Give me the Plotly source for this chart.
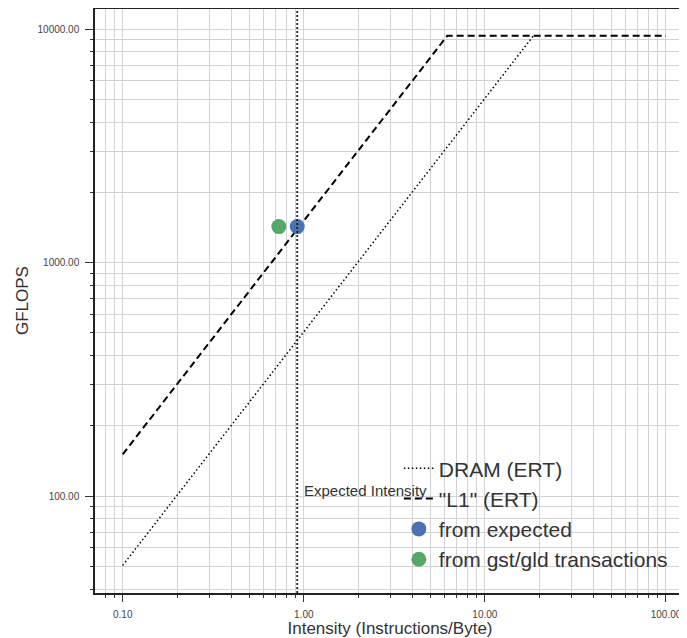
import math
import plotly.graph_objects as go

# Roofline data
intensity_range = [0.1, 100.0]
peak_gflops = 9360.0
l1_bw = 1510.0      # GB/s ("L1" ERT)
dram_bw = 505.0     # GB/s (DRAM ERT)

expected_intensity = 0.92
point_names = ["from expected", "from gst/gld transactions"]
point_x = [0.92, 0.728]
point_y = [1426.0, 1426.0]
point_colors = ["#4C72B0", "#55A868"]

x_ticks = [0.1, 1.0, 10.0, 100.0]
x_ticktext = ["0.10", "1.00", "10.00", "100.00"]
y_ticks = [100.0, 1000.0, 10000.0]
y_ticktext = ["100.00", "1000.00", "10000.00"]


fig = go.Figure()
# DRAM roof: slope part up to its ridge (flat part coincides with L1 roof)
dram_ridge = peak_gflops / dram_bw
dx = [intensity_range[0], dram_ridge]
dy = [dram_bw * x for x in dx]
fig.add_trace(go.Scatter(x=dx, y=dy, mode="lines", name="DRAM (ERT)",
                         line=dict(color="black", width=1.5, dash="1.5px,2.5px")))
l1_ridge = peak_gflops / l1_bw
lx = [intensity_range[0], l1_ridge, intensity_range[1]]
ly = [min(l1_bw * x, peak_gflops) for x in lx]
fig.add_trace(go.Scatter(x=lx, y=ly, mode="lines", name='"L1" (ERT)',
                         line=dict(color="black", width=2, dash="7px,4px")))
for n, x, y, c in zip(point_names, point_x, point_y, point_colors):
    fig.add_trace(go.Scatter(x=[x], y=[y], mode="markers", name=n,
                             marker=dict(color=c, size=15)))

fig.add_vline(x=expected_intensity, line=dict(color="#222", width=1.8, dash="2px,2px"))
fig.add_annotation(x=math.log10(expected_intensity) + 0.025, y=math.log10(106), xref="x", yref="y",
                   text="Expected Intensity",
                   showarrow=False, xanchor="left", yanchor="middle",
                   font=dict(size=15, color="#333"))
# y-axis title as annotation for precise placement
fig.add_annotation(x=-0.1237, y=0.5, xref="paper", yref="paper", text="GFLOPS",
                   textangle=-90, showarrow=False, xanchor="center", yanchor="middle",
                   font=dict(size=17, color="#333"))

minor_x = [m * 10 ** e for e in range(-2, 3) for m in range(2, 10)]
minor_y = [m * 10 ** e for e in range(1, 5) for m in range(2, 10)]

grid_c = "#d3d3d3"
fig.update_xaxes(type="log", range=[-1.153, 2.105], tickvals=x_ticks, ticktext=x_ticktext,
                 showgrid=True, gridcolor=grid_c, gridwidth=1,
                 ticks="outside", ticklen=7, tickcolor="#333", ticklabelstandoff=4,
                 showline=True, linecolor="#222", linewidth=1.5, mirror=True,
                 zeroline=False, automargin=False,
                 tickfont=dict(size=10, color="#444"),
                 title=dict(text="Intensity (Instructions/Byte)", font=dict(size=17, color="#333"), standoff=10),
                 minor=dict(tickvals=minor_x, showgrid=True, gridcolor=grid_c, gridwidth=1,
                            ticks="outside", ticklen=3, tickcolor="#333"))
fig.update_yaxes(type="log", range=[1.585, 4.086], tickvals=y_ticks, ticktext=y_ticktext,
                 showgrid=True, gridcolor=grid_c, gridwidth=1,
                 ticks="outside", ticklen=8, tickcolor="#333", ticklabelstandoff=4,
                 showline=True, linecolor="#222", linewidth=1.5,
                 zeroline=False, automargin=False,
                 tickfont=dict(size=10, color="#444"),
                 minor=dict(tickvals=minor_y, showgrid=True, gridcolor=grid_c, gridwidth=1,
                            ticks="outside", ticklen=3, tickcolor="#333"))

# page body has an 8px default margin; compensate in figure size/margins
fig.update_layout(
    width=679, height=630,
    margin=dict(l=87, r=2, t=1, b=45, autoexpand=False),
    paper_bgcolor="white", plot_bgcolor="white",
    font=dict(family="Liberation Sans, Arial, sans-serif", color="#333"),
    legend=dict(x=0.515, y=0.022, xanchor="left", yanchor="bottom",
                bgcolor="rgba(0,0,0,0)", font=dict(size=21, color="#333"),
                tracegroupgap=0),
    showlegend=True,
)

fig.write_html("out.html")
